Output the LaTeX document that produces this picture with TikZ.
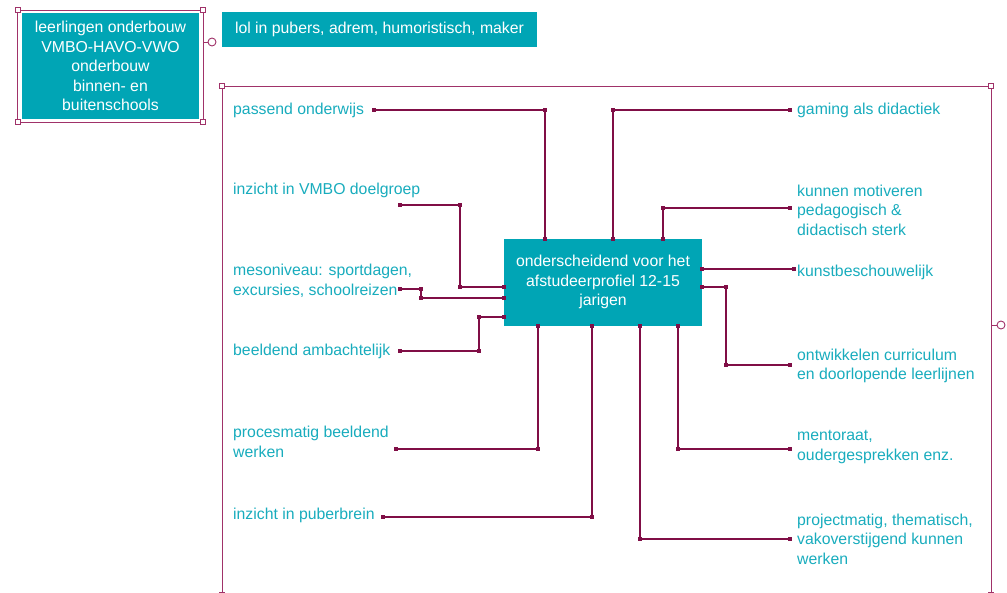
\documentclass[tikz,border=0pt]{standalone}
\usepackage{fontspec}
\setmainfont{Liberation Sans}
\usetikzlibrary{calc}
\definecolor{boxteal}{RGB}{0,165,181}
\definecolor{labteal}{RGB}{24,172,189}
\definecolor{linkc}{RGB}{128,14,70}
\definecolor{framec}{RGB}{160,50,105}
\tikzset{
  box/.style={fill=boxteal, text=white, align=center, inner sep=0pt,
    font=\fontsize{15.8}{19.5}\selectfont},
  lbl/.style={text=labteal, anchor=west, align=left, inner sep=0pt,
    font=\fontsize{15.8}{19.5}\selectfont},
  link/.style={draw=linkc, line width=1.1pt},
  frame/.style={draw=framec, line width=0.9pt},
  hgrip/.style={frame, fill=white},
}
\begin{document}
\begin{tikzpicture}[x=1pt,y=-1pt]
\useasboundingbox (0,0) rectangle (1007,592);
%% boxes
\node[box, minimum width=177, minimum height=106] (doelgroep) at (110.5,66)
  {leerlingen onderbouw\\VMBO-HAVO-VWO\\onderbouw\\binnen- en\\buitenschools};
\node[box, minimum width=315, minimum height=35] (kenmerk) at (379.5,29.5)
  {lol in pubers, adrem, humoristisch, maker};
\node[box, minimum width=198, minimum height=87, text depth=4pt] (profiel) at (603,282.5)
  {onderscheidend voor het\\afstudeerprofiel 12-15\\jarigen};
%% labels left
\node[lbl] (passend) at (233,110) {passend onderwijs};
\node[lbl] (vmbo) at (233,190) {inzicht in VMBO doelgroep};
\node[lbl] (meso) at (233,281) {mesoniveau: sportdagen,\\excursies, schoolreizen};
\node[lbl] (ambacht) at (233,351) {beeldend ambachtelijk};
\node[lbl] (proces) at (233,442) {procesmatig beeldend\\werken};
\node[lbl] (puber) at (233,515) {inzicht in puberbrein};
%% labels right
\node[lbl] (gaming) at (797,110) {gaming als didactiek};
\node[lbl] (motiveren) at (797,210) {kunnen motiveren\\pedagogisch \&\\didactisch sterk};
\node[lbl] (kunst) at (797,272) {kunstbeschouwelijk};
\node[lbl] (curriculum) at (797,366) {ontwikkelen curriculum\\en doorlopende leerlijnen};
\node[lbl] (mentor) at (797,447) {mentoraat,\\oudergesprekken enz.};
\node[lbl] (project) at (797,539) {projectmatig, thematisch,\\vakoverstijgend kunnen\\werken};
%% free ends
\coordinate (e_passend) at (374,110);
\coordinate (e_vmbo) at (400,205);
\coordinate (e_meso) at (400,289);
\coordinate (e_ambacht) at (400,351);
\coordinate (e_proces) at (396,449);
\coordinate (e_puber) at (383,517);
\coordinate (e_gaming) at (790,110);
\coordinate (e_motiveren) at (790,208);
\coordinate (e_kunst) at (794,269);
\coordinate (e_curriculum) at (790,365);
\coordinate (e_mentor) at (790,449);
\coordinate (e_project) at (790,539);
%% connectors
\draw[link] (e_passend) -| (545,0 |- profiel.north);
\draw[link] (e_gaming) -| (613,0 |- profiel.north);
\draw[link] (e_vmbo) -- (460,205) |- (profiel.west |- 0,287);
\draw[link] (e_meso) -- (421,289) |- (profiel.west |- 0,298);
\draw[link] (e_ambacht) -- (479,351) |- (profiel.west |- 0,317);
\draw[link] (e_proces) -| (538,0 |- profiel.south);
\draw[link] (e_puber) -| (592,0 |- profiel.south);
\draw[link] (e_project) -| (640,0 |- profiel.south);
\draw[link] (e_mentor) -| (678,0 |- profiel.south);
\draw[link] (profiel.east |- 0,287) -- (726,287) |- (e_curriculum);
\draw[link] (profiel.east |- 0,269) -- (e_kunst);
\draw[link] (e_motiveren) -| (663,0 |- profiel.north);
%% markers
\foreach \p in {(374,110),(545,110),(545,239),(790,110),(613,110),(613,239),
  (400,205),(460,205),(460,287),(504,287),(400,289),(421,289),(421,298),(504,298),
  (400,351),(479,351),(479,317),(504,317),(396,449),(538,449),(538,326),
  (383,517),(592,517),(592,326),(790,539),(640,539),(640,326),(790,449),(678,449),(678,326),
  (702,287),(726,287),(726,365),(790,365),(702,269),(794,269),(790,208),(663,208),(663,239)}
  \fill[linkc] \p ++(-2,-2) rectangle ++(4,4);
%% selection frames
\draw[frame] (17.5,10) rectangle (203,122);
\foreach \p in {(17.5,10),(203,10),(17.5,122),(203,122)}
  \draw[hgrip] \p ++(-2.5,-2.5) rectangle ++(5,5);
\draw[frame] (203,42) -- (208,42);
\draw[hgrip] (212,42) circle (4);
\draw[frame] (222,600) -- (222,86) -- (991,86) -- (991,600);
\foreach \p in {(222,86),(991,86),(222,595),(991,595)}
  \draw[hgrip] \p ++(-2.5,-2.5) rectangle ++(5,5);
\draw[frame] (991,325) -- (997,325);
\draw[hgrip] (1001,325) circle (4);
\end{tikzpicture}
\end{document}
